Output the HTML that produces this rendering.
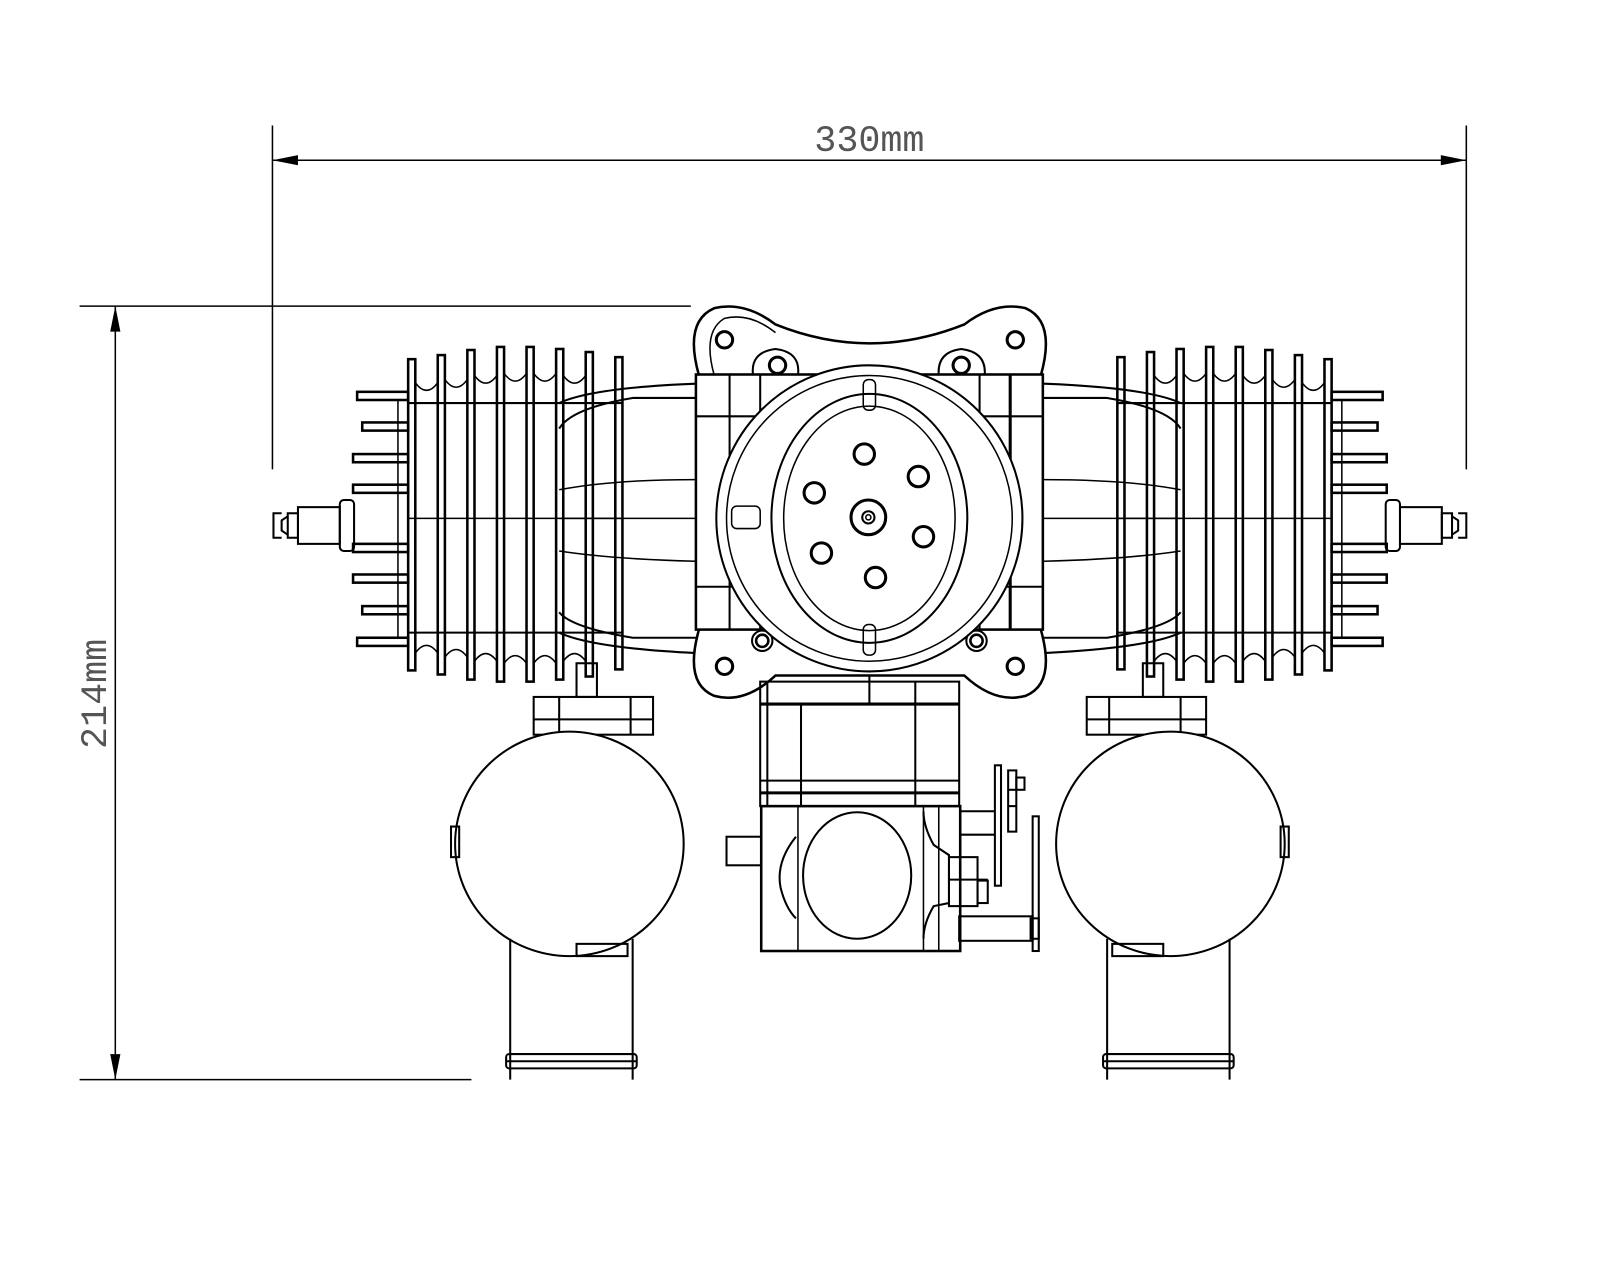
<!DOCTYPE html>
<html><head><meta charset="utf-8"><style>
html,body{margin:0;padding:0;background:#fff}
svg{display:block}
</style></head><body>
<svg width="1600" height="1280" viewBox="0 0 1600 1280" xmlns="http://www.w3.org/2000/svg" fill="none" stroke="#000" stroke-width="2">
<rect x="0" y="0" width="1600" height="1280" fill="#fff" stroke="none"/>
<g transform="scale(1.0204)">
<!-- dimensions -->
<g stroke-width="1.5">
<line x1="267" y1="123" x2="267" y2="460"/>
<line x1="1437" y1="123" x2="1437" y2="460"/>
<line x1="267" y1="157" x2="1437" y2="157"/>
<line x1="78" y1="300" x2="677" y2="300"/>
<line x1="78" y1="1058" x2="462" y2="1058"/>
<line x1="113" y1="300" x2="113" y2="1058"/>
</g>
<path d="M267 157 L292 152 L292 162 Z M1437 157 L1412 152 L1412 162 Z M113 300 L108 325 L118 325 Z M113 1058 L108 1033 L118 1033 Z" fill="#000" stroke="none"/>
<text x="852" y="148" font-family="Liberation Mono, monospace" font-size="36" fill="#555" stroke="none" text-anchor="middle">330mm</text>
<text transform="translate(104,680) rotate(-90)" font-family="Liberation Mono, monospace" font-size="36" fill="#555" stroke="none" text-anchor="middle">214mm</text>

<g id="side">
  <path d="M548 395 Q580 380 682 376 M548 620 Q580 635 682 640 M548 420 Q560 400 620 390 L682 390 M548 600 Q560 615 620 625 L682 625"/>
  <line x1="548" y1="508" x2="682" y2="508" stroke-width="1.5"/>
  <path d="M548 480 Q600 470 682 470 M548 540 Q600 548 682 550" stroke-width="1.5"/>
  <line x1="400" y1="395" x2="610" y2="395"/>
  <line x1="400" y1="620" x2="610" y2="620"/>
  <line x1="400" y1="508" x2="610" y2="508" stroke-width="1.5"/>
  <g stroke-width="2.5">
    <rect x="400" y="352" width="7" height="305"/>
    <rect x="429" y="348" width="7" height="313"/>
    <rect x="458" y="343" width="7" height="323"/>
    <rect x="487" y="340" width="7" height="328"/>
    <rect x="516" y="340" width="7" height="328"/>
    <rect x="545" y="342" width="7" height="324"/>
    <rect x="574" y="345" width="7" height="318"/>
    <rect x="603" y="350" width="7" height="306"/>
  </g>
  <path d="M407 375 Q418 390 429 375 M436 372 Q447 387 458 372 M465 368 Q476 383 487 368 M494 366 Q505 381 516 366 M523 366 Q534 381 545 366 M552 368 Q563 383 574 368 M407 640 Q418 625 429 640 M436 644 Q447 629 458 644 M465 648 Q476 633 487 648 M494 650 Q505 635 516 650 M523 650 Q534 635 545 650 M552 648 Q563 633 574 648" stroke-width="1.5"/>
  <g stroke-width="2.5">
    <rect x="350" y="384" width="50" height="8"/>
    <rect x="355" y="414" width="45" height="8"/>
    <rect x="346" y="445" width="54" height="8"/>
    <rect x="346" y="475" width="54" height="8"/>
    <rect x="346" y="533" width="54" height="8"/>
    <rect x="346" y="563" width="54" height="8"/>
    <rect x="355" y="594" width="45" height="8"/>
    <rect x="350" y="625" width="50" height="8"/>
  </g>
  <line x1="390" y1="392" x2="390" y2="625" stroke-width="1.5"/>
  <rect x="333" y="490" width="14" height="50" rx="4"/>
  <rect x="292" y="497" width="41" height="36"/>
  <rect x="282" y="503" width="10" height="24"/>
  <path d="M282 506 L276 510 L276 520 L282 524 M276 503 L268 503 L268 527 L276 527"/>
  <rect x="523" y="683" width="117" height="37"/>
  <line x1="523" y1="705" x2="640" y2="705"/>
  <line x1="548" y1="683" x2="548" y2="720"/>
  <line x1="618" y1="683" x2="618" y2="720"/>
  <rect x="565" y="650" width="20" height="33"/>
  <ellipse cx="558" cy="827" rx="112" ry="110" fill="#fff"/>
  <rect x="442" y="810" width="8" height="30"/>
  <rect x="565" y="925" width="50" height="12"/>
  <path d="M500 920 L500 1058 M620 920 L620 1058"/>
  <rect x="496" y="1033" width="128" height="14" rx="3"/>
  <line x1="496" y1="1040" x2="624" y2="1040"/>
</g>
<use href="#side" transform="translate(1705,0) scale(-1,1)"/>

<path d="M685 368 Q670 315 700 302 Q730 295 760 318 Q852 355 945 318 Q975 295 1005 302 Q1035 315 1020 368" fill="#fff" stroke-width="2.5"/>
<path d="M700 368 Q688 325 710 312 Q735 306 760 326" stroke-width="1.5"/>
<circle cx="710" cy="333" r="8" stroke-width="3"/>
<circle cx="995" cy="333" r="8" stroke-width="3"/>
<path d="M738 368 Q735 345 760 342 Q785 345 782 368 M920 368 Q918 345 942 342 Q967 345 965 368" stroke-width="2"/>
<circle cx="762" cy="358" r="8" stroke-width="3"/>
<circle cx="942" cy="358" r="8" stroke-width="3"/>
<path d="M685 617 Q670 670 700 682 Q730 690 760 662 L945 662 Q975 690 1005 682 Q1035 670 1020 617" fill="#fff" stroke-width="2.5"/>
<circle cx="710" cy="653" r="8" stroke-width="3"/>
<circle cx="995" cy="653" r="8" stroke-width="3"/>
<circle cx="747" cy="628" r="10" stroke-width="2"/>
<circle cx="747" cy="628" r="6" stroke-width="2.5"/>
<circle cx="957" cy="628" r="10" stroke-width="2"/>
<circle cx="957" cy="628" r="6" stroke-width="2.5"/>
<rect x="682" y="367" width="340" height="250" stroke-width="2.5"/>
<line x1="715" y1="367" x2="715" y2="617"/>
<line x1="990" y1="367" x2="990" y2="617" stroke-width="3"/>
<line x1="682" y1="408" x2="745" y2="408"/>
<line x1="682" y1="575" x2="745" y2="575"/>
<line x1="960" y1="408" x2="1022" y2="408"/>
<line x1="960" y1="575" x2="1022" y2="575"/>
<line x1="960" y1="367" x2="960" y2="617"/>
<line x1="745" y1="367" x2="745" y2="617"/>
<circle cx="852" cy="508" r="150" fill="#fff" stroke-width="2"/>
<circle cx="852" cy="508" r="140" stroke-width="1.5"/>
<ellipse cx="852" cy="508" rx="96" ry="122" stroke-width="2"/>
<ellipse cx="852" cy="508" rx="84" ry="110" stroke-width="1.5"/>
<rect x="846" y="372" width="12" height="30" rx="5" stroke-width="1.5"/>
<rect x="846" y="612" width="12" height="30" rx="5" stroke-width="1.5"/>
<rect x="717" y="496" width="28" height="22" rx="5" stroke-width="1.5"/>
<g stroke-width="3">
<circle cx="847" cy="445" r="10"/>
<circle cx="900" cy="467" r="10"/>
<circle cx="798" cy="483" r="10"/>
<circle cx="905" cy="526" r="10"/>
<circle cx="805" cy="542" r="10"/>
<circle cx="858" cy="566" r="10"/>
<circle cx="851" cy="507" r="17"/>
</g>
<circle cx="851" cy="507" r="6" stroke-width="2"/>
<circle cx="851" cy="507" r="2.5" stroke-width="1.5"/>

<rect x="745" y="668" width="195" height="122" stroke-width="2"/>
<line x1="745" y1="690" x2="940" y2="690" stroke-width="3"/>
<line x1="745" y1="765" x2="940" y2="765" stroke-width="2"/>
<line x1="745" y1="777" x2="940" y2="777" stroke-width="3"/>
<line x1="752" y1="668" x2="752" y2="790"/>
<line x1="785" y1="690" x2="785" y2="790"/>
<line x1="897" y1="668" x2="897" y2="790"/>
<line x1="852" y1="662" x2="852" y2="690"/>
<rect x="746" y="790" width="195" height="142" stroke-width="2.5"/>
<path d="M782 790 L782 932 M905 790 L905 932 M920 790 L920 932" stroke-width="1.5"/>
<path d="M780 820 Q760 845 765 870 Q770 890 780 900" stroke-width="2"/>
<path d="M905 795 Q905 810 915 828 L930 838 L930 885 L915 888 Q905 905 905 920" stroke-width="2"/>
<ellipse cx="840" cy="858" rx="53" ry="62" fill="#fff"/>
<rect x="712" y="820" width="34" height="28"/>
<rect x="930" y="840" width="28" height="48"/>
<line x1="930" y1="862" x2="968" y2="862"/>
<rect x="958" y="863" width="10" height="22"/>
<line x1="940" y1="818" x2="975" y2="818"/>
<line x1="940" y1="795" x2="975" y2="795"/>
<rect x="975" y="750" width="6" height="118"/>
<rect x="988" y="755" width="8" height="60"/>
<rect x="996" y="762" width="8" height="12"/>
<line x1="988" y1="774" x2="996" y2="774"/>
<line x1="988" y1="790" x2="996" y2="790"/>
<rect x="1012" y="800" width="6" height="132"/>
<rect x="940" y="898" width="72" height="24"/>
<rect x="1010" y="900" width="8" height="20"/>
</g>
</svg>
</body></html>
